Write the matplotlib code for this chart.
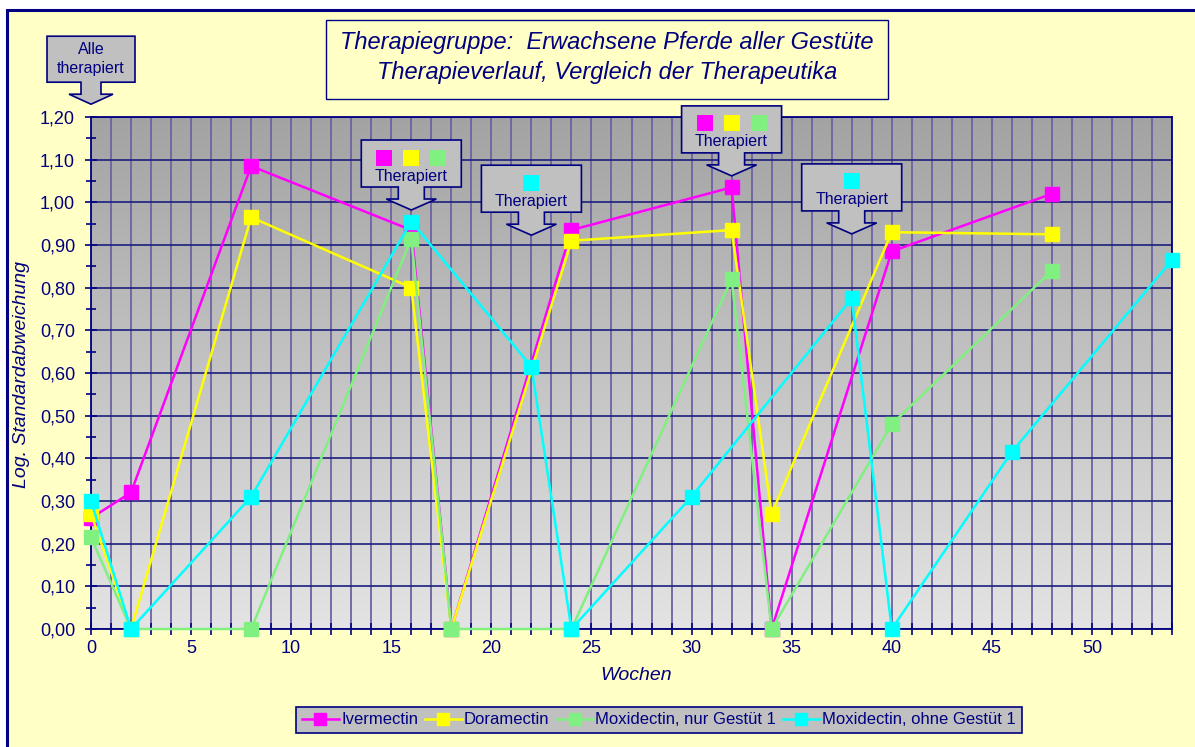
import numpy as np
import matplotlib
matplotlib.use('Agg')
import matplotlib.pyplot as plt
from matplotlib.patches import Polygon, Rectangle
from matplotlib.transforms import IdentityTransform
from matplotlib.colors import LinearSegmentedColormap
from matplotlib.ticker import MultipleLocator, FuncFormatter
from matplotlib.lines import Line2D

plt.rcParams['font.family'] = ['Liberation Sans', 'DejaVu Sans']

# ---------------- data ----------------
weeks_iver = [0, 2, 8, 16, 18, 24, 32, 34, 40, 48]
iver = [0.26, 0.32, 1.085, 0.935, 0.0, 0.935, 1.035, 0.0, 0.885, 1.02]

weeks_dora = [0, 2, 8, 16, 18, 24, 32, 34, 40, 48]
dora = [0.27, 0.0, 0.965, 0.80, 0.0, 0.91, 0.935, 0.27, 0.93, 0.925]

weeks_moxi1 = [0, 2, 8, 16, 18, 24, 32, 34, 40, 48]
moxi1 = [0.215, 0.0, 0.0, 0.915, 0.0, 0.0, 0.82, 0.0, 0.48, 0.84]

weeks_moxi2 = [0, 2, 8, 16, 22, 24, 30, 38, 40, 46, 54]
moxi2 = [0.30, 0.0, 0.31, 0.955, 0.615, 0.0, 0.31, 0.775, 0.0, 0.415, 0.865]

series_labels = ["Ivermectin", "Doramectin", "Moxidectin, nur Gestüt 1", "Moxidectin, ohne Gestüt 1"]
series_colors = ["#FF00FF", "#FFFF00", "#80F080", "#00FFFF"]

# callouts: (week, tip y, colours of squares)
callout_weeks = [16, 22, 32, 38]
callout_tips = [0.982, 0.923, 1.062, 0.926]
callout_squares = [[0, 1, 2], [3], [0, 1, 2], [3]]
callout_text = "Therapiert"
start_callout_text = "Alle\ntherapiert"
start_callout_tip = (0, 1.23)

title_lines = ["Therapiegruppe:  Erwachsene Pferde aller Gestüte",
               "Therapieverlauf, Vergleich der Therapeutika"]
xlabel = "Wochen"
ylabel = "Log. Standardabweichung"

# ---------------- style ----------------
NAVY = "#000080"
BG = "#FFFFC6"
W, H = 1195, 747

fig = plt.figure(figsize=(W / 100, H / 100), dpi=100, facecolor="white")

# outer chart area frame
fig.add_artist(Rectangle((7 / W, -0.1), 1.2, (H - 10) / H + 0.1,
                         transform=fig.transFigure, facecolor=BG,
                         edgecolor=NAVY, lw=2.2, zorder=0))

ax = fig.add_axes([91 / W, (H - 629) / H, (1172 - 91) / W, (629 - 117) / H])
ax.set_xlim(0, 54)
ax.set_ylim(0, 1.2)

# gradient plot background
cmap = LinearSegmentedColormap.from_list("bg", ["#E4E4E4", "#A3A3A3"])
grad = np.linspace(0, 1, 256).reshape(-1, 1)
ax.imshow(grad, cmap=cmap, extent=(0, 54, 0, 1.2), origin="lower",
          aspect="auto", zorder=0)

# grid
ax.xaxis.set_major_locator(MultipleLocator(5))
ax.xaxis.set_minor_locator(MultipleLocator(1))
ax.yaxis.set_major_locator(MultipleLocator(0.1))
ax.yaxis.set_minor_locator(MultipleLocator(0.05))
ax.grid(which="both", axis="x", color="#6C62A4", lw=1.3, zorder=1)
ax.grid(which="major", axis="y", color="#1E1E7E", lw=1.2, zorder=1)
ax.set_axisbelow(True)

ax.yaxis.set_major_formatter(FuncFormatter(lambda v, p: f"{v:.2f}".replace(".", ",")))
ax.tick_params(axis="both", which="both", direction="inout", color=NAVY,
               labelcolor=NAVY, labelsize=13)
ax.tick_params(axis="y", which="major", length=9, width=1.2, pad=7)
ax.tick_params(axis="y", which="minor", length=7.5, width=1.2)
ax.tick_params(axis="x", which="both", length=9, width=1.2, pad=3.5)
for s in ax.spines.values():
    s.set_color(NAVY)
    s.set_linewidth(1.3)

# series
datasets = [(weeks_iver, iver), (weeks_dora, dora), (weeks_moxi1, moxi1), (weeks_moxi2, moxi2)]
for (wx, wy), lab, col in zip(datasets, series_labels, series_colors):
    ax.plot(wx, wy, color=col, lw=1.8, marker="s", markersize=10.5,
            markerfacecolor=col, markeredgecolor=col, label=lab,
            clip_on=False, zorder=3)

# labels
fig.text(636 / W, 1 - 676 / H, xlabel, ha="center", va="center",
         style="italic", color=NAVY, fontsize=14)
fig.text(22 / W, 1 - 375 / H, ylabel, ha="center", va="center",
         rotation=90, style="italic", color=NAVY, fontsize=14)

# title box
fig.add_artist(Rectangle((326 / W, 1 - 99 / H), (888 - 326) / W, (99 - 20) / H,
                         transform=fig.transFigure, facecolor=BG,
                         edgecolor=NAVY, lw=1.0, zorder=2))
fig.text(607 / W, 1 - 42 / H, title_lines[0], ha="center", va="center",
         style="italic", color=NAVY, fontsize=17, zorder=3)
fig.text(607 / W, 1 - 73 / H, title_lines[1], ha="center", va="center",
         style="italic", color=NAVY, fontsize=17, zorder=3)

# callouts
fig.canvas.draw()
ident = IdentityTransform()


def draw_callout(tip, head_h, stem_h, box_h, box_hw, stem_hw, head_hw):
    tx, ty = ax.transData.transform(tip)
    hb = ty + head_h
    bb = hb + stem_h
    bt = bb + box_h
    pts = [(tx, ty), (tx + head_hw, hb), (tx + stem_hw, hb), (tx + stem_hw, bb),
           (tx + box_hw, bb), (tx + box_hw, bt), (tx - box_hw, bt), (tx - box_hw, bb),
           (tx - stem_hw, bb), (tx - stem_hw, hb), (tx - head_hw, hb)]
    poly = Polygon(pts, closed=True, facecolor="#C0C0C0", edgecolor=NAVY,
                   lw=1.2, transform=ident, zorder=10)
    fig.add_artist(poly)
    return tx, bt


for wk, tipy, sq in zip(callout_weeks, callout_tips, callout_squares):
    tx, bt = draw_callout((wk, tipy), 11, 12, 47, 50, 13, 25)
    offs = [-27, 0, 27] if len(sq) == 3 else [0]
    for o, ci in zip(offs, sq):
        s = 16
        fig.add_artist(Rectangle((tx + o - s / 2, bt - 17.5 - s / 2), s, s,
                                 facecolor=series_colors[ci], edgecolor="none",
                                 transform=ident, zorder=11))
    fig.text(tx / W, (bt - 36) / H, callout_text, ha="center", va="center",
             color=NAVY, fontsize=11.5, zorder=12)

tx, bt = draw_callout(start_callout_tip, 10, 12, 46, 44, 10, 22)
fig.text(tx / W, (bt - 23) / H, start_callout_text, ha="center", va="center",
         color=NAVY, fontsize=11.5, linespacing=1.3, zorder=12)

# legend
handles = [Line2D([], [], color=c, lw=1.8, marker="s", markersize=8,
                  markerfacecolor=c, markeredgecolor=c) for c in series_colors]
leg = fig.legend(handles, series_labels, loc="center",
                 bbox_to_anchor=(659 / W, 1 - 720 / H), ncol=4, frameon=True,
                 fancybox=False, edgecolor=NAVY, facecolor="#C0C0C0",
                 framealpha=1, fontsize=12, handlelength=2.2,
                 handletextpad=0.15, columnspacing=0.4, borderpad=0.35,
                 labelcolor=NAVY)
leg.get_frame().set_linewidth(1.2)

fig.savefig("out.png", dpi=100, facecolor=fig.get_facecolor())
